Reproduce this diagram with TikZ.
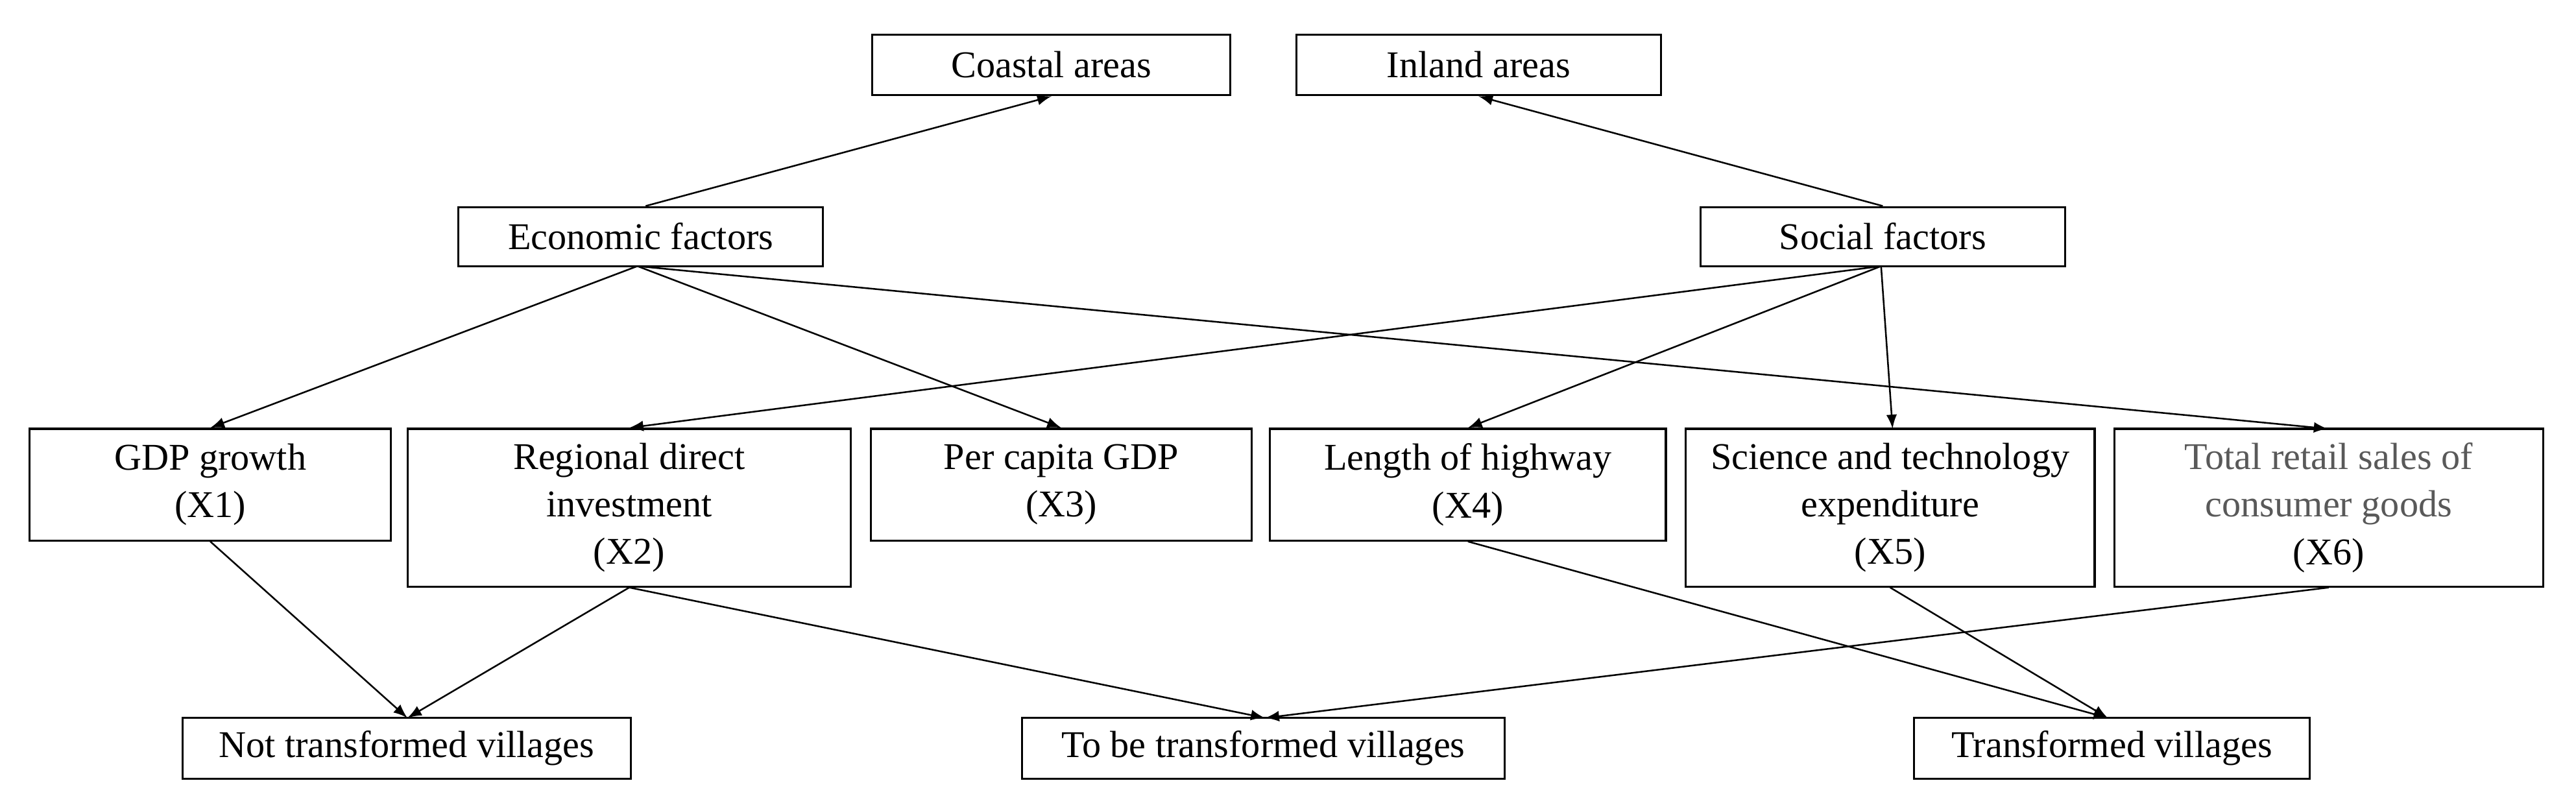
\documentclass[tikz,border=0pt]{standalone}
\usepackage{fontspec}
\setmainfont{Liberation Serif}
\begin{document}
\begin{tikzpicture}[x=0.5pt,y=-0.5pt,
 bx/.style={draw,line width=0.6pt,align=center,inner sep=0pt,font=\fontsize{11.5}{14.5}\selectfont},
 ar/.style={-latex,line width=0.5pt}]
\useasboundingbox (0,0) rectangle (1568,491);
\newcommand\bxn[6]{\node[bx,minimum width=#3*0.5pt-#2*0.5pt,minimum height=#5*0.5pt-#4*0.5pt] (#1) at ({(#2+#3)/2},{(#4+#5)/2}) {#6};}
\bxn{coast}{531}{749}{21}{58}{Coastal areas}
\bxn{inland}{789}{1011}{21}{58}{Inland areas}
\bxn{eco}{279}{501}{126}{162}{Economic factors}
\bxn{soc}{1035}{1257}{126}{162}{Social factors}
\bxn{x1}{18}{238}{261}{329}{GDP growth\\(X1)}
\bxn{x2}{248}{518}{261}{357}{Regional direct\\investment\\(X2)}
\bxn{x3}{530}{762}{261}{329}{Per capita GDP\\(X3)}
\bxn{x4}{773}{1014}{261}{329}{Length of highway\\(X4)}
\bxn{x5}{1026}{1275}{261}{357}{Science and technology\\expenditure\\(X5)}
\bxn{x6}{1287}{1548}{261}{357}{\color[gray]{0.35}Total retail sales of\\\color[gray]{0.35}consumer goods\\(X6)}
\bxn{nt}{111}{384}{437}{474}{Not transformed villages}
\bxn{tb}{622}{916}{437}{474}{To be transformed villages}
\bxn{tr}{1165}{1406}{437}{474}{Transformed villages}
\coordinate (c1) at (640,58); \coordinate (c2) at (900,58);
\draw[ar] (eco.north) ++(3,0) -- (coast.south -| c1);
\draw[ar] (soc.north) -- (inland.south -| c2);
\draw[ar] (388,162) -- (x1.north);
\draw[ar] (388,162) -- (x3.north);
\draw[ar] (388,162) -- (1417,261);
\draw[ar] (1145,162) -- (x2.north);
\draw[ar] (1145,162) -- (x4.north);
\draw[ar] (1145,162) -- (1152,261);
\coordinate (n1) at (248,437); \coordinate (t1) at (770,437); \coordinate (r1) at (1283,437);
\draw[ar] (x1.south) -- (n1);
\draw[ar] (x2.south) -- (n1);
\draw[ar] (x2.south) -- (t1);
\draw[ar] (x4.south) -- (r1);
\draw[ar] (x5.south) -- (r1);
\draw[ar] (x6.south) -- (t1);
\end{tikzpicture}
\end{document}
